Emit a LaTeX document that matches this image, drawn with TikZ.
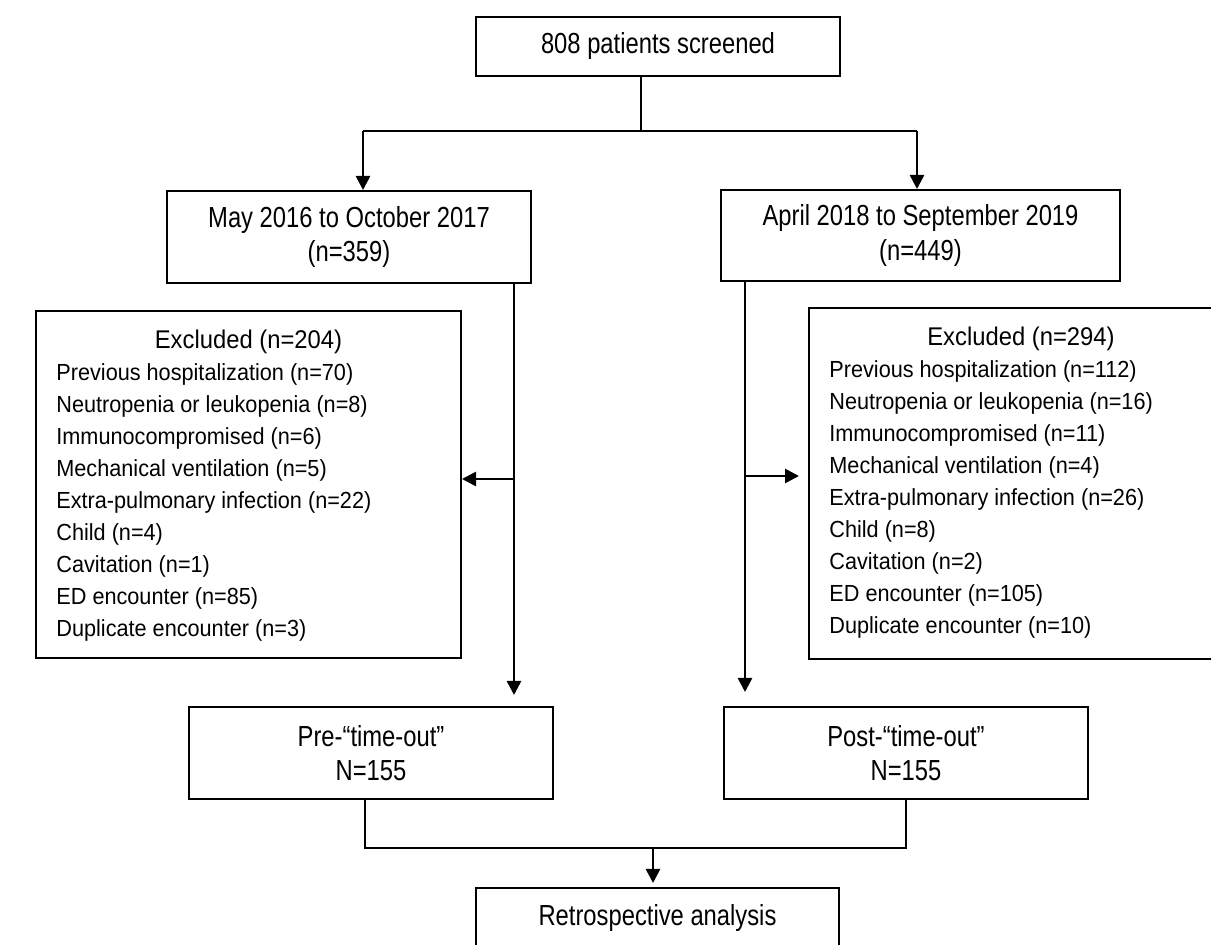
\documentclass[tikz,border=0pt]{standalone}
\usepackage{fontspec}
\setmainfont{Liberation Sans}
\newfontfamily\boxfont[FakeStretch=0.82]{Liberation Sans}
\newfontfamily\exfont[FakeStretch=0.93]{Liberation Sans}
\usetikzlibrary{arrows.meta}

\tikzset{
  box/.style={draw,line width=1pt,minimum width=182pt,inner sep=0pt,align=center,
    font=\boxfont\fontsize{14.5}{17.2}\selectfont},
  head/.style={anchor=base,inner sep=0pt,font=\exfont\fontsize{12.8}{14}\selectfont},
  item/.style={anchor=base west,inner sep=0pt,font=\exfont\fontsize{11.65}{13}\selectfont},
  ln/.style={line width=1.3pt},
  arr/.style={line width=1.3pt,-{Triangle[width=7pt,length=7pt]}},
}

\begin{document}
\begin{tikzpicture}[x=.5pt,y=-.5pt]
\useasboundingbox (0,0) rectangle (1211,945);
\clip (0,0) rectangle (1211,945);
% boxes
\node[box,minimum height=29.5pt] (screen) at (658,46.5) {808 patients screened};
\node[box,minimum height=46pt] (may) at (349,237) {May 2016 to October 2017\\(n=359)};
\node[box,minimum width=199.5pt,minimum height=45.5pt] (apr) at (920.5,235.5) {April 2018 to September 2019\\(n=449)};
\node[box,minimum width=212.5pt,minimum height=173.5pt] (exl) at (248.5,484.5) {};
\node[box,minimum width=212pt,minimum height=175.5pt] (exr) at (1021,483.5) {};
\node[box,minimum height=46pt] (pre) at (371,753) {Pre-“time-out”\\N=155};
\node[box,minimum height=46pt] (post) at (906,753) {Post-“time-out”\\N=155};
\node[box,minimum width=181.5pt,minimum height=30pt] (retro) at (657.5,918) {Retrospective analysis};
% exclusions
\node[head] (exl-t) at (248.5,349) {Excluded (n=204)};
\foreach \t [count=\i] in {Previous hospitalization (n=70),Neutropenia or leukopenia (n=8),
  Immunocompromised (n=6),Mechanical ventilation (n=5),Extra-pulmonary infection (n=22),
  Child (n=4),Cavitation (n=1),ED encounter (n=85),Duplicate encounter (n=3)}
  \node[item] (exl-\i) at (56,{349+32*\i}) {\t};
\node[head] (exr-t) at (1021,346) {Excluded (n=294)};
\foreach \t [count=\i] in {Previous hospitalization (n=112),Neutropenia or leukopenia (n=16),
  Immunocompromised (n=11),Mechanical ventilation (n=4),Extra-pulmonary infection (n=26),
  Child (n=8),Cavitation (n=2),ED encounter (n=105),Duplicate encounter (n=10)}
  \node[item] (exr-\i) at (829,{346+32*\i}) {\t};
% connectors
\coordinate (split) at (641,131);
\coordinate (ml) at (363,131);
\coordinate (mr) at (917,131);
\draw[ln] (split |- screen.south) -- (split);
\draw[ln] (ml) -- (mr);
\draw[arr] (ml) -- (ml |- may.north);
\draw[arr] (mr) -- (mr |- apr.north);
\coordinate (lb) at (514,479);
\coordinate (lc) at (514,695);
\draw[arr] (lc |- may.south) -- (lc);
\draw[arr] (lb) -- (lb -| exl.east);
\coordinate (rb) at (745,476);
\coordinate (rt) at (799,476);
\coordinate (rc) at (745,692);
\draw[arr] (rc |- apr.south) -- (rc);
\draw[arr] (rb) -- (rt);
\coordinate (jl) at (365,848);
\coordinate (jr) at (906,848);
\coordinate (jm) at (653,848);
\coordinate (jt) at (653,883);
\draw[ln] (jl |- pre.south) -- (jl) -- (jr) -- (post.south);
\draw[arr] (jm) -- (jt);
\end{tikzpicture}
\end{document}
